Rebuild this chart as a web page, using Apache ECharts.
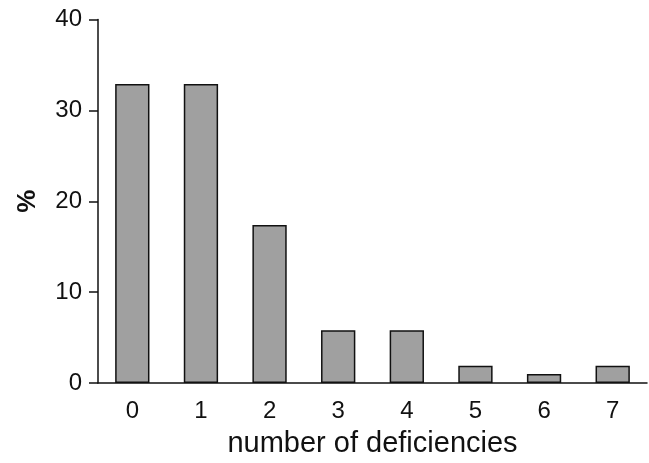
<!DOCTYPE html>
<html><head><meta charset="utf-8">
<script src="https://cdn.jsdelivr.net/npm/echarts@6/dist/echarts.min.js"></script>
<style>html,body{margin:0;padding:0;background:#fff}#c{width:649px;height:463px}</style>
</head><body><div id="c"></div>
<script>
const categories = ['0','1','2','3','4','5','6','7'];
const percentValues = [32.9, 32.9, 17.4, 5.8, 5.8, 1.9, 1.0, 1.9];
const xTitle = 'number of deficiencies';
const yTitle = '%';

const chart = echarts.init(document.getElementById('c'), null, {renderer:'canvas'});
const font = 'Liberation Sans, Arial, sans-serif';
chart.setOption({
  animation:false,
  backgroundColor:'#fff',
  grid:{left:98, right:2, top:19.5, bottom:77.5, containLabel:false},
  xAxis:{
    type:'category', data:categories,
    axisTick:{show:false},
    axisLine:{lineStyle:{color:'#111', width:1.5}},
    axisLabel:{color:'#111', fontSize:24, fontFamily:font, margin:16},
    name:xTitle, nameLocation:'middle', nameGap:46,
    nameTextStyle:{color:'#111', fontSize:29, fontFamily:font}
  },
  yAxis:{
    type:'value', min:0, max:40, interval:10,
    splitLine:{show:false},
    axisLine:{show:true, lineStyle:{color:'#111', width:1.5}},
    axisTick:{show:true, length:9, lineStyle:{color:'#111', width:1.5}},
    axisLabel:{color:'#111', fontSize:24, fontFamily:font, margin:16},
    name:yTitle, nameLocation:'middle', nameGap:57, nameRotate:90,
    nameTextStyle:{color:'#111', fontSize:26, fontWeight:'bold', fontFamily:font}
  },
  series:[{
    type:'bar', data:percentValues, barWidth:'50%',
    itemStyle:{color:'#a0a0a0', borderColor:'#111', borderWidth:1.5}
  }]
});
</script></body></html>
